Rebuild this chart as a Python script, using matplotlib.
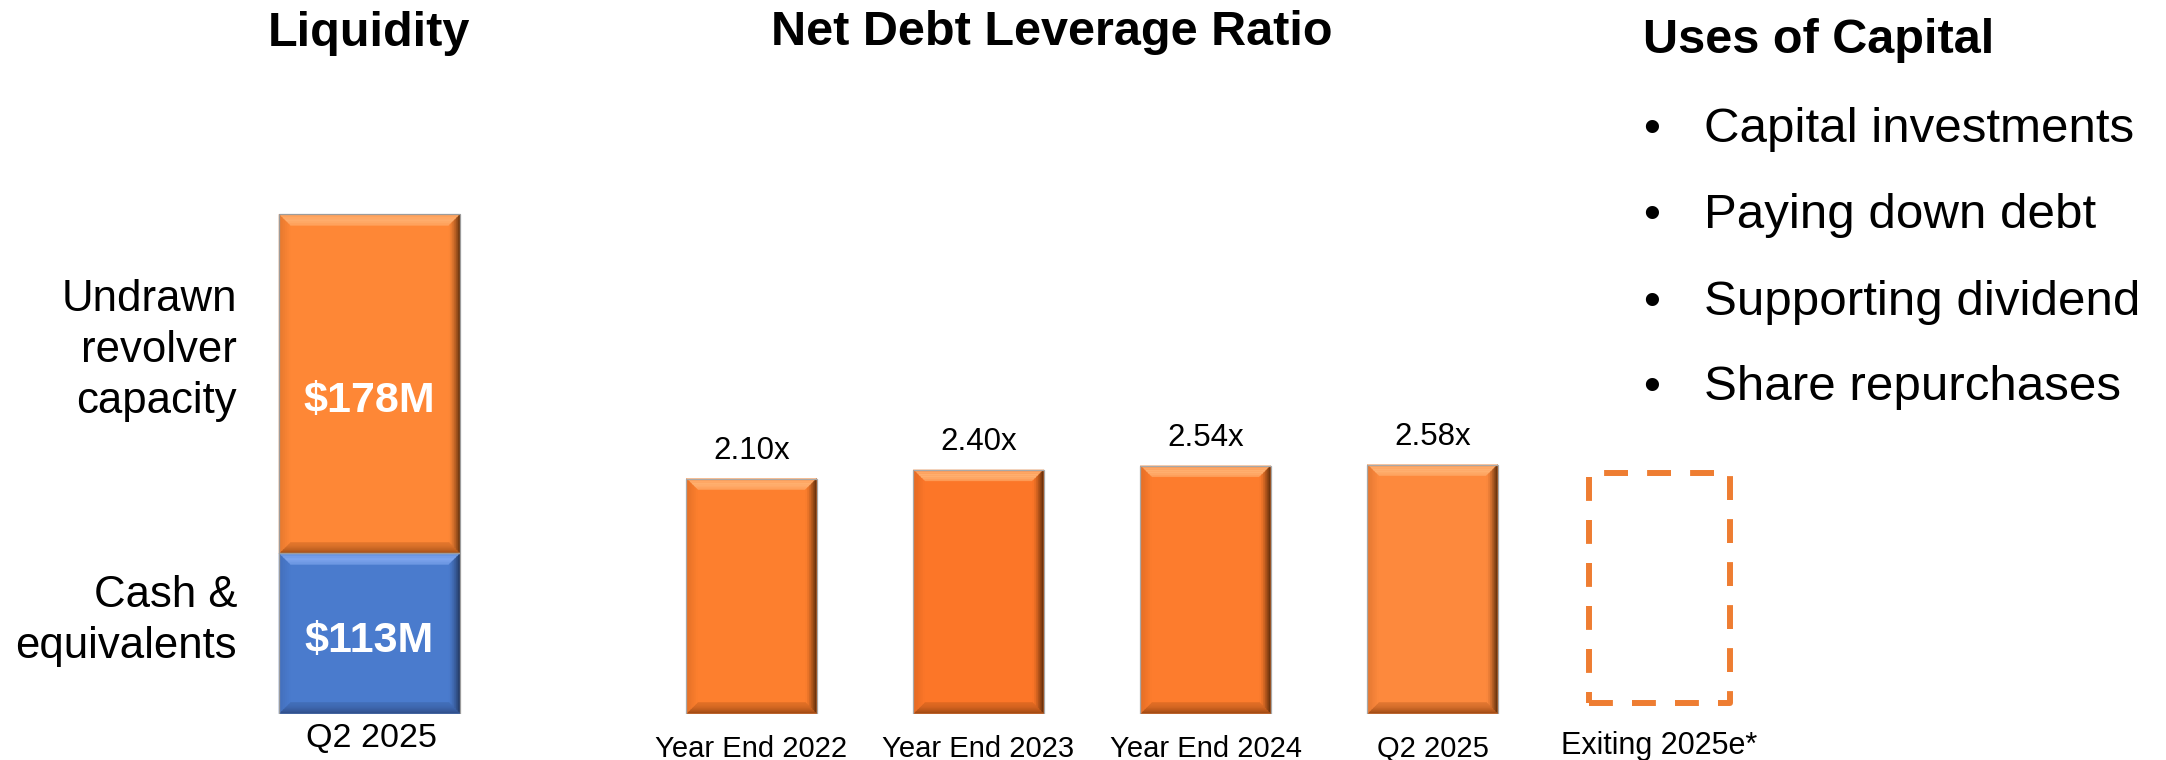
import numpy as np
import matplotlib.pyplot as plt
from matplotlib.colors import to_rgb
from matplotlib.patches import Polygon
from matplotlib.transforms import blended_transform_factory

plt.rcParams['font.family'] = ['Liberation Sans', 'DejaVu Sans']

W, H = 2166, 760

# liquidity, Q2 2025 ($M)
liq_category = "Q2 2025"
liq_labels = ["Cash &\nequivalents", "Undrawn\nrevolver\ncapacity"]
liq_values = [113, 178]
liq_colors = ["#4A7BCD", "#FE8736"]
liq_base = 29  # axis starts above zero

# net debt leverage ratio
lev_categories = ["Year End 2022", "Year End 2023", "Year End 2024", "Q2 2025", "Exiting 2025e*"]
lev_values = [2.10, 2.40, 2.54, 2.58]
lev_colors = ["#FD7F2E", "#FC7628", "#FD7C2D", "#FD893D"]
lev_base = -6.0
estimate_span = (-5.65, 2.3)  # empty dashed box for the estimate

uses_title = "Uses of Capital"
uses = ["Capital investments", "Paying down debt", "Supporting dividend", "Share repurchases"]


def fpos(x, y):
    # pixel position (from top-left) -> figure fraction
    return x / W, 1 - y / H


def mix(c1, c2, t):
    a, b = np.array(to_rgb(c1)), np.array(to_rgb(c2))
    return tuple(a + (b - a) * t)


def bevel(ax, patch, light, dark, side_dark, bw=11, n=6):
    # fake 3d edge on a bar: light top, dark right/bottom
    x0, y0 = patch.get_x(), patch.get_y()
    x1, y1 = x0 + patch.get_width(), y0 + patch.get_height()
    p0, p1 = ax.transData.transform([(0, 0), (1, 1)])
    dx = bw / (p1[0] - p0[0])
    dy = bw / (p1[1] - p0[1])
    base = patch.get_facecolor()[:3]

    def rect(t):
        s = 1 - t
        return x0 + dx * s, y0 + dy * s, x1 - dx * s, y1 - dy * s

    for k in range(n):
        ta, tb = k / n, (k + 1) / n
        tm = (ta + tb) / 2
        La, Ba, Ra, Ta = rect(ta)
        Lb, Bb, Rb, Tb = rect(tb)
        sides = [
            ([(Lb, Tb), (Rb, Tb), (Ra, Ta), (La, Ta)], mix(base, light, 0.6 + 0.4 * (1 - abs(tm - 0.5) * 2))),
            ([(Rb, Bb), (Rb, Tb), (Ra, Ta), (Ra, Ba)], mix(base, dark, tm ** 1.5)),
            ([(Lb, Bb), (Rb, Bb), (Ra, Ba), (La, Ba)], mix(base, side_dark, 0.3 + 0.7 * tm ** 2)),
            ([(Lb, Bb), (Lb, Tb), (La, Ta), (La, Ba)], mix(base, side_dark, 0.25 * tm)),
        ]
        for pts, c in sides:
            ax.add_patch(Polygon(pts, closed=True, facecolor=c, edgecolor=c, lw=0.3, zorder=3))


fig = plt.figure(figsize=(W / 100, H / 100), dpi=100)

# ---- Liquidity ----
ax1 = fig.add_axes([188.5 / W, (H - 713.5) / H, 362 / W, (713.5 - 180) / H])
ax1.set_xlim(-1, 1)
ax1.set_ylim(liq_base, liq_base + (713.5 - 180) / 1.905)
ax1.axis('off')

bottom = liq_base
liq_bars = []
for v, c in zip(np.cumsum(liq_values), liq_colors):
    b = ax1.bar(0, v - bottom, bottom=bottom, width=1, color=c, edgecolor='none', zorder=2)
    liq_bars.append(b[0])
    bottom = v

bevel(ax1, liq_bars[0], "#7FA6EE", "#22355C", "#2E4C86")
bevel(ax1, liq_bars[1], "#FFB070", "#5E2E0C", "#9A4A14")
bottom = liq_base
for v in np.cumsum(liq_values):
    ax1.bar(0, v - bottom, bottom=bottom, width=1, fill=False, edgecolor="#9C9C9C", lw=0.9, zorder=4)
    bottom = v

lo = liq_base
for v, top in zip(liq_values, np.cumsum(liq_values)):
    seg_lo = max(top - v, lo)
    ax1.text(0, seg_lo + 0.45 * (top - seg_lo), f"${v}M", color='white', fontsize=31,
             fontweight='bold', ha='center', va='center', zorder=5)

# side labels, right aligned
for txt, ys in zip(liq_labels, [(607, 658), (311, 362, 413)]):
    for line, y in zip(txt.split("\n"), ys):
        fig.text(*fpos(237, y), line, fontsize=31.5, ha='right', va='baseline')

fig.text(*fpos(372, 747), liq_category, fontsize=24.5, ha='center', va='baseline')
fig.text(*fpos(369, 46), "Liquidity", fontsize=35, fontweight='bold', ha='center', va='baseline')

# ---- Net Debt Leverage Ratio ----
ax2 = fig.add_axes([638 / W, (H - 713.5) / H, 1135 / W, (713.5 - 380) / H])
ax2.set_xlim(-0.5, 4.5)
ax2.set_ylim(lev_base, lev_base + (713.5 - 380) / 29)
ax2.axis('off')

x = np.arange(len(lev_values))
heights = np.array(lev_values) - lev_base
bars = ax2.bar(x, heights, bottom=lev_base, width=0.573, color=lev_colors, edgecolor='none', zorder=2)
for b in bars:
    bevel(ax2, b, "#FFB273", "#5A2A08", "#9A4712")
ax2.bar(x, heights, bottom=lev_base, width=0.573, fill=False, edgecolor="#A8A8A8", lw=0.9, zorder=4)

for xi, v in zip(x, lev_values):
    ax2.annotate(f"{v:.2f}x", (xi, v), xytext=(0, 14.4), textcoords='offset points',
                 fontsize=22.5, ha='center', va='baseline')

ax2.bar(len(lev_values), estimate_span[1] - estimate_span[0], bottom=estimate_span[0], width=0.62,
        fill=False, edgecolor="#EE7D32", lw=4.3, linestyle=(0, (4, 3.2)), joinstyle='round',
        capstyle='butt', zorder=2)

tr = blended_transform_factory(ax2.transData, fig.transFigure)
for i, lab in enumerate(lev_categories):
    yb = 754 if i == len(lev_categories) - 1 else 757
    ax2.text(i, 1 - yb / H, lab, transform=tr, fontsize=22 if i == 4 else 21,
             ha='center', va='baseline', clip_on=False)

fig.text(*fpos(1052, 45), "Net Debt Leverage Ratio", fontsize=35, fontweight='bold',
         ha='center', va='baseline')

# ---- Uses of Capital ----
fig.text(*fpos(1643, 53), uses_title, fontsize=35, fontweight='bold', ha='left', va='baseline')
for item, y in zip(uses, [142, 228, 315, 400]):
    fig.text(*fpos(1652, y), "\u2022", fontsize=35, ha='center', va='baseline')
    fig.text(*fpos(1704, y), item, fontsize=35.5, ha='left', va='baseline')

fig.savefig("out.png", dpi=100, facecolor='white')
